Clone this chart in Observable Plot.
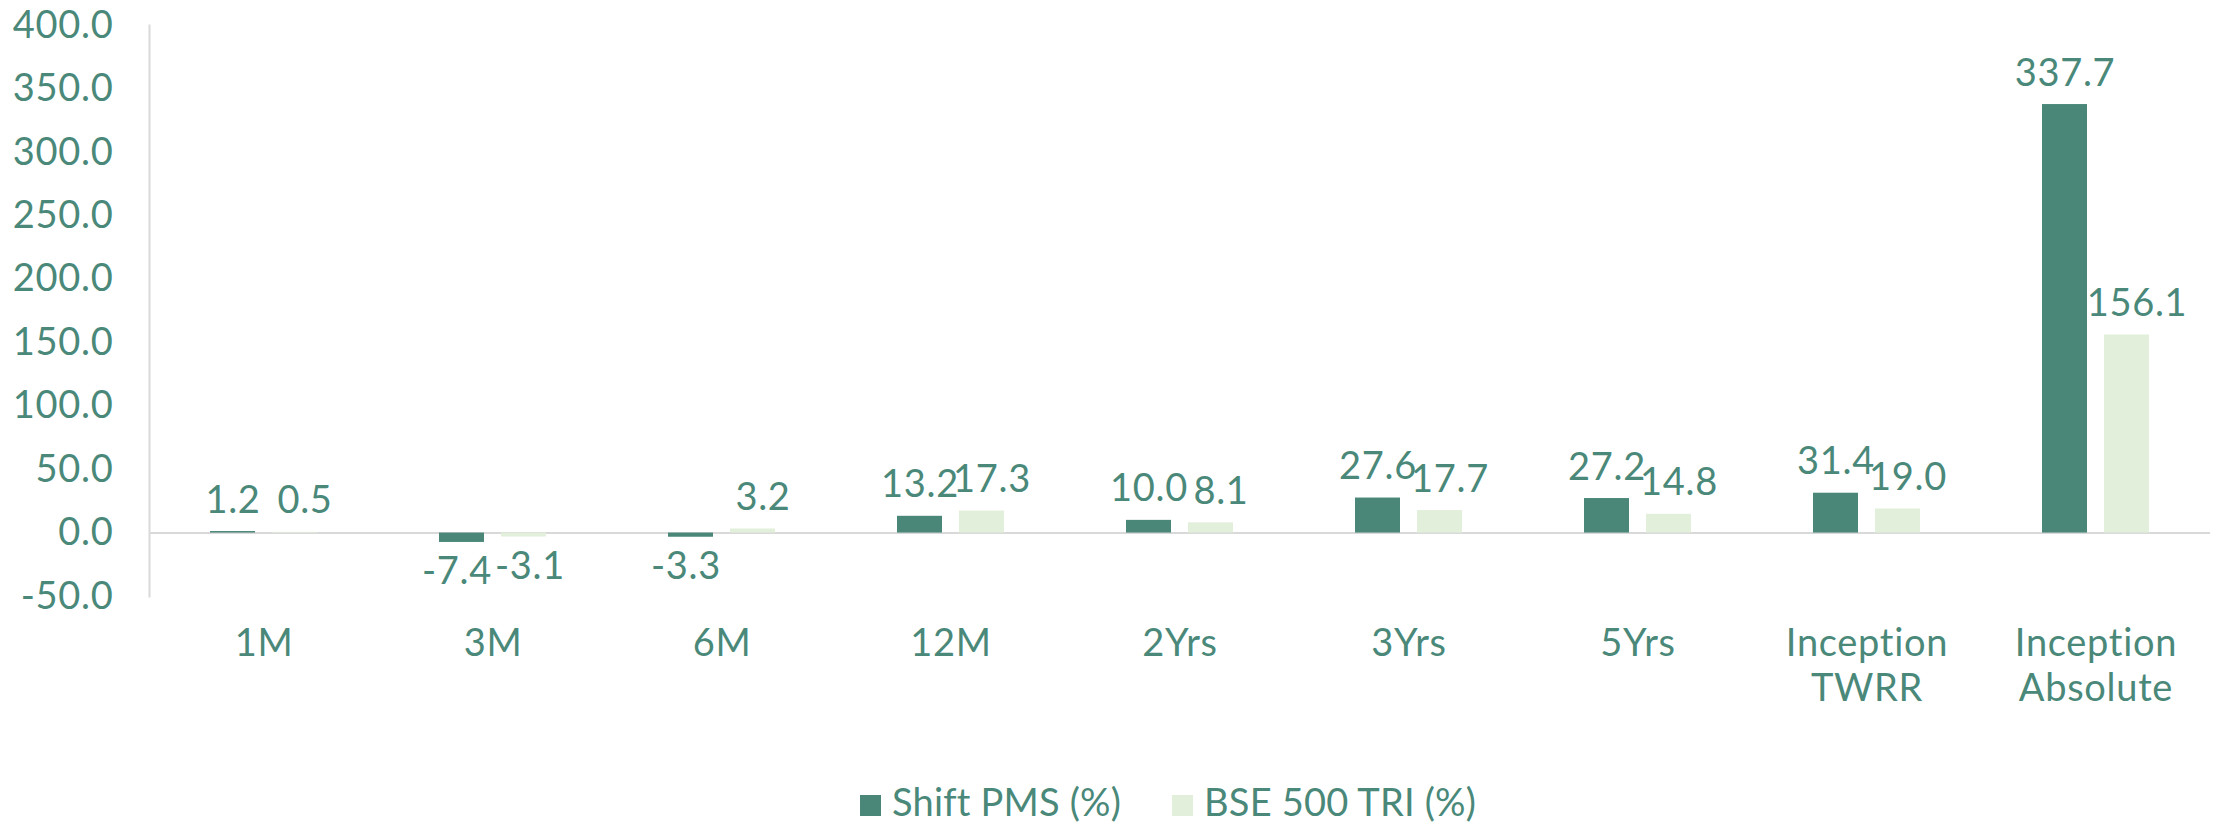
<!DOCTYPE html>
<html>
<head>
<meta charset="utf-8">
<script src="https://cdn.jsdelivr.net/npm/d3@7"></script>
<script src="https://cdn.jsdelivr.net/npm/@observablehq/plot@0.6"></script>
<style>
  html, body { margin: 0; padding: 0; background: #fff; }
  #wrap { position: relative; width: 2218px; height: 823px; overflow: hidden; font-family: Lato, "Noto Sans", sans-serif; }
  #legend { position: absolute; top: 782px; left: 860px; display: flex; align-items: center; font-size: 38px; line-height: 38px; letter-spacing: 0.2px; color: #4a8879; white-space: nowrap; }
  #legend .item { display: flex; align-items: center; margin-right: 51px; }
  #legend .sw { width: 21px; height: 21px; margin-right: 11px; display: inline-block; position: relative; top: 4px; }
</style>
</head>
<body>
<div id="wrap"></div>
<script>
const categories = ["1M", "3M", "6M", "12M", "2Yrs", "3Yrs", "5Yrs", "Inception\nTWRR", "Inception\nAbsolute"];
const seriesNames = ["Shift PMS (%)", "BSE 500 TRI (%)"];
const shiftPMS = [1.2, -7.4, -3.3, 13.2, 10.0, 27.6, 27.2, 31.4, 337.7];
const bse500 = [0.5, -3.1, 3.2, 17.3, 8.1, 17.7, 14.8, 19.0, 156.1];
const yTicks = [-50, 0, 50, 100, 150, 200, 250, 300, 350, 400];
const colors = ["#4a8779", "#e2efda"];
const textColor = "#4a8879";
const gridColor = "#d9d9d9";

const data = [];
categories.forEach((c, i) => {
  data.push({cat: c, series: seriesNames[0], value: shiftPMS[i]});
  data.push({cat: c, series: seriesNames[1], value: bse500[i]});
});

const isA = d => d.series === seriesNames[0];
const isB = d => d.series === seriesNames[1];
const fmt = d => d.value.toFixed(1);
const common = {fx: "cat", x: "series", y: "value", text: fmt, fontSize: 38, fill: textColor};

const chart = Plot.plot({
  width: 2218,
  height: 770,
  marginLeft: 146,
  marginRight: 6,
  marginTop: 25,
  marginBottom: 174,
  style: {fontFamily: "Lato, 'Noto Sans', sans-serif", background: "#fff", letterSpacing: "0.7px"},
  fx: {domain: categories, padding: 0, label: null},
  x: {domain: seriesNames, paddingInner: 0.27, paddingOuter: 0.957, axis: null},
  y: {domain: [-50, 400], label: null},
  color: {domain: seriesNames, range: colors},
  marks: [
    Plot.ruleY([0], {stroke: gridColor, strokeWidth: 2}),
    Plot.frame({anchor: "left", facet: "super", stroke: gridColor, strokeWidth: 2}),
    Plot.barY(data, {fx: "cat", x: "series", y: "value", fill: "series"}),
    Plot.text(data.filter(d => d.value >= 0 && isA(d)), {...common, lineAnchor: "bottom", dy: -19}),
    Plot.text(data.filter(d => d.value >= 0 && isB(d)), {...common, lineAnchor: "bottom", dy: -19, dx: 10}),
    Plot.text(data.filter(d => d.value < 0 && isA(d)), {...common, lineAnchor: "top", dy: 15, dx: -5}),
    Plot.text(data.filter(d => d.value < 0 && isB(d)), {...common, lineAnchor: "top", dy: 15, dx: 6}),
    Plot.axisY({ticks: yTicks, tickSize: 0, tickPadding: 36, tickFormat: d => d.toFixed(1), fontSize: 38, fill: textColor, label: null}),
    Plot.axisFx({anchor: "bottom", tickSize: 0, tickPadding: 28, fontSize: 38, lineHeight: 1.18, fill: textColor, label: null})
  ]
});

const wrap = document.getElementById("wrap");
wrap.appendChild(chart);

const legend = document.createElement("div");
legend.id = "legend";
seriesNames.forEach((name, i) => {
  const item = document.createElement("div");
  item.className = "item";
  const sw = document.createElement("span");
  sw.className = "sw";
  sw.style.background = colors[i];
  const label = document.createElement("span");
  label.textContent = name;
  item.appendChild(sw);
  item.appendChild(label);
  legend.appendChild(item);
});
wrap.appendChild(legend);
</script>
</body>
</html>
